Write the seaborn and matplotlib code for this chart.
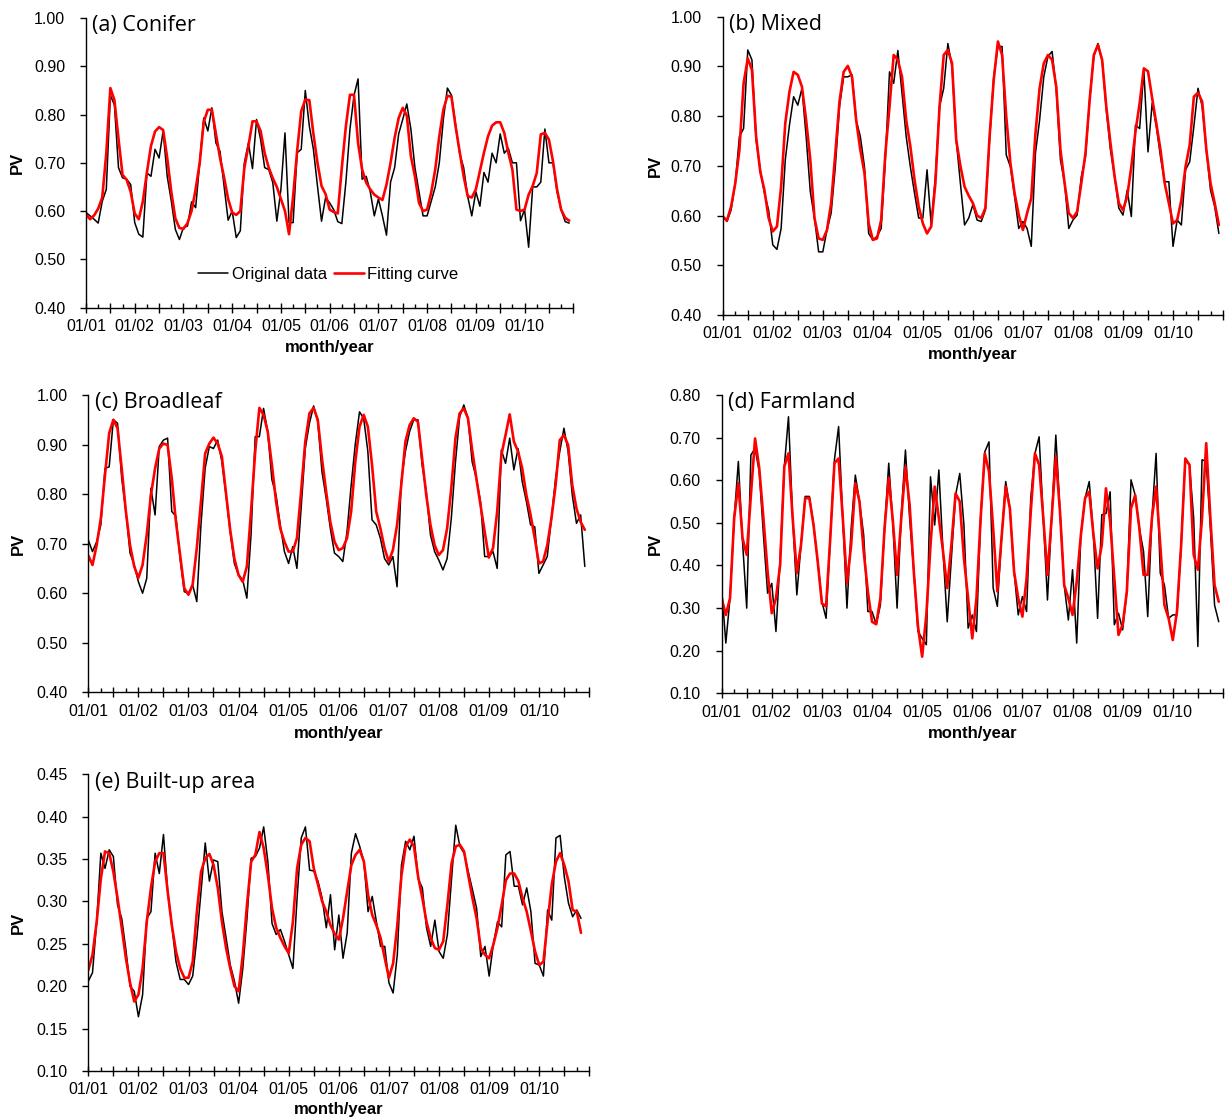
import numpy as np
import pandas as pd
import matplotlib
matplotlib.use("Agg")
import matplotlib.pyplot as plt
import seaborn as sns
from matplotlib.ticker import FixedLocator, FuncFormatter

# ---------------- data (monthly PV, Jan 2001 - Dec 2010) ----------------
year_labels = ["01/01", "01/02", "01/03", "01/04", "01/05",
               "01/06", "01/07", "01/08", "01/09", "01/10"]

conifer_orig = [
    0.597, 0.59, 0.583, 0.575, 0.62, 0.645, 0.84, 0.82, 0.69, 0.669,
    0.666, 0.655, 0.576, 0.552, 0.546, 0.679, 0.672, 0.728, 0.71, 0.766,
    0.672, 0.621, 0.562, 0.541, 0.566, 0.569, 0.619, 0.607, 0.70, 0.793,
    0.766, 0.814, 0.741, 0.724, 0.652, 0.581, 0.60, 0.545, 0.559, 0.70,
    0.741, 0.688, 0.79, 0.748, 0.69, 0.686, 0.659, 0.579, 0.645, 0.762,
    0.576, 0.576, 0.721, 0.728, 0.85, 0.776, 0.728, 0.652, 0.579, 0.628,
    0.617, 0.603, 0.578, 0.574, 0.66, 0.77, 0.84, 0.874, 0.666, 0.672,
    0.64, 0.59, 0.625, 0.59, 0.55, 0.66, 0.69, 0.76, 0.79, 0.822,
    0.77, 0.69, 0.64, 0.59, 0.59, 0.62, 0.65, 0.70, 0.79, 0.855,
    0.84, 0.78, 0.72, 0.69, 0.63, 0.59, 0.64, 0.61, 0.68, 0.66,
    0.72, 0.70, 0.76, 0.72, 0.73, 0.70, 0.70, 0.58, 0.603, 0.525,
    0.65, 0.65, 0.66, 0.77, 0.70, 0.70, 0.64, 0.603, 0.578, 0.575]
conifer_fit = [
    0.593, 0.583, 0.591, 0.605, 0.628, 0.72, 0.855, 0.83, 0.75, 0.675,
    0.665, 0.64, 0.595, 0.583, 0.62, 0.68, 0.735, 0.765, 0.774, 0.768,
    0.71, 0.64, 0.585, 0.565, 0.563, 0.575, 0.60, 0.645, 0.70, 0.785,
    0.81, 0.81, 0.76, 0.71, 0.67, 0.625, 0.597, 0.592, 0.60, 0.69,
    0.735, 0.786, 0.786, 0.766, 0.72, 0.69, 0.668, 0.65, 0.625, 0.60,
    0.552, 0.63, 0.725, 0.807, 0.831, 0.83, 0.76, 0.70, 0.652, 0.635,
    0.603, 0.598, 0.595, 0.69, 0.776, 0.841, 0.841, 0.741, 0.686, 0.659,
    0.645, 0.634, 0.628, 0.623, 0.655, 0.70, 0.752, 0.793, 0.814, 0.798,
    0.714, 0.672, 0.617, 0.60, 0.603, 0.638, 0.686, 0.755, 0.81, 0.839,
    0.837, 0.776, 0.724, 0.672, 0.631, 0.628, 0.645, 0.683, 0.721, 0.755,
    0.777, 0.784, 0.784, 0.762, 0.721, 0.686, 0.603, 0.60, 0.603, 0.634,
    0.652, 0.679, 0.759, 0.762, 0.748, 0.703, 0.645, 0.603, 0.586, 0.58]

mixed_orig = [
    0.599, 0.588, 0.611, 0.665, 0.759, 0.775, 0.933, 0.913, 0.752, 0.692,
    0.645, 0.611, 0.541, 0.532, 0.574, 0.712, 0.782, 0.839, 0.822, 0.856,
    0.759, 0.648, 0.595, 0.527, 0.527, 0.571, 0.605, 0.698, 0.819, 0.879,
    0.879, 0.883, 0.792, 0.759, 0.698, 0.564, 0.551, 0.558, 0.574, 0.712,
    0.889, 0.866, 0.932, 0.846, 0.759, 0.698, 0.645, 0.595, 0.595, 0.692,
    0.581, 0.678, 0.819, 0.856, 0.946, 0.899, 0.752, 0.665, 0.581, 0.595,
    0.622, 0.591, 0.588, 0.611, 0.752, 0.879, 0.94, 0.94, 0.722, 0.698,
    0.638, 0.574, 0.588, 0.574, 0.538, 0.725, 0.792, 0.879, 0.92, 0.93,
    0.853, 0.712, 0.665, 0.574, 0.591, 0.601, 0.678, 0.718, 0.832, 0.92,
    0.946, 0.913, 0.812, 0.732, 0.678, 0.615, 0.601, 0.651, 0.598, 0.782,
    0.775, 0.893, 0.728, 0.826, 0.779, 0.718, 0.668, 0.668, 0.538, 0.591,
    0.581, 0.692, 0.708, 0.779, 0.856, 0.819, 0.732, 0.651, 0.618, 0.564]
mixed_fit = [
    0.598, 0.590, 0.618, 0.665, 0.732, 0.866, 0.916, 0.893, 0.759, 0.688,
    0.651, 0.595, 0.568, 0.578, 0.658, 0.786, 0.849, 0.889, 0.883, 0.859,
    0.792, 0.712, 0.595, 0.554, 0.551, 0.571, 0.625, 0.725, 0.829, 0.889,
    0.901, 0.879, 0.792, 0.732, 0.685, 0.584, 0.551, 0.554, 0.591, 0.725,
    0.819, 0.923, 0.913, 0.879, 0.792, 0.739, 0.672, 0.618, 0.584, 0.564,
    0.578, 0.665, 0.819, 0.923, 0.933, 0.906, 0.752, 0.70, 0.658, 0.64,
    0.625, 0.60, 0.595, 0.615, 0.759, 0.873, 0.95, 0.923, 0.799, 0.705,
    0.645, 0.601, 0.571, 0.605, 0.635, 0.765, 0.856, 0.906, 0.923, 0.913,
    0.859, 0.732, 0.665, 0.605, 0.595, 0.608, 0.665, 0.725, 0.832, 0.923,
    0.943, 0.913, 0.819, 0.745, 0.678, 0.625, 0.611, 0.638, 0.698, 0.769,
    0.826, 0.896, 0.89, 0.836, 0.785, 0.732, 0.665, 0.625, 0.584, 0.591,
    0.631, 0.698, 0.742, 0.839, 0.847, 0.829, 0.732, 0.665, 0.625, 0.581]

broadleaf_orig = [
    0.707, 0.684, 0.704, 0.738, 0.852, 0.855, 0.95, 0.943, 0.832, 0.765,
    0.681, 0.657, 0.623, 0.60, 0.63, 0.812, 0.758, 0.896, 0.909, 0.913,
    0.765, 0.755, 0.67, 0.603, 0.60, 0.617, 0.583, 0.738, 0.852, 0.896,
    0.892, 0.909, 0.866, 0.798, 0.724, 0.66, 0.637, 0.627, 0.59, 0.718,
    0.916, 0.916, 0.973, 0.926, 0.829, 0.798, 0.738, 0.684, 0.66, 0.694,
    0.65, 0.771, 0.892, 0.943, 0.978, 0.946, 0.845, 0.792, 0.731, 0.681,
    0.674, 0.664, 0.724, 0.818, 0.902, 0.966, 0.953, 0.886, 0.748, 0.738,
    0.711, 0.67, 0.657, 0.674, 0.613, 0.825, 0.886, 0.926, 0.95, 0.95,
    0.859, 0.805, 0.718, 0.684, 0.667, 0.647, 0.67, 0.751, 0.865, 0.956,
    0.98, 0.953, 0.865, 0.832, 0.785, 0.674, 0.674, 0.684, 0.65, 0.889,
    0.862, 0.913, 0.849, 0.892, 0.825, 0.785, 0.738, 0.734, 0.64, 0.657,
    0.674, 0.751, 0.832, 0.886, 0.933, 0.886, 0.798, 0.741, 0.758, 0.654]
broadleaf_fit = [
    0.676, 0.657, 0.697, 0.751, 0.839, 0.923, 0.95, 0.933, 0.852, 0.765,
    0.697, 0.654, 0.631, 0.657, 0.718, 0.798, 0.852, 0.892, 0.902, 0.899,
    0.832, 0.744, 0.677, 0.61, 0.597, 0.617, 0.691, 0.785, 0.882, 0.902,
    0.914, 0.902, 0.876, 0.802, 0.728, 0.67, 0.637, 0.623, 0.654, 0.765,
    0.886, 0.974, 0.96, 0.926, 0.859, 0.785, 0.731, 0.704, 0.684, 0.684,
    0.711, 0.805, 0.906, 0.963, 0.974, 0.95, 0.872, 0.805, 0.744, 0.704,
    0.687, 0.691, 0.711, 0.765, 0.866, 0.936, 0.96, 0.936, 0.859, 0.765,
    0.731, 0.691, 0.664, 0.687, 0.738, 0.818, 0.906, 0.939, 0.953, 0.946,
    0.872, 0.798, 0.738, 0.697, 0.677, 0.687, 0.731, 0.812, 0.913, 0.963,
    0.973, 0.953, 0.889, 0.832, 0.778, 0.724, 0.672, 0.691, 0.765, 0.879,
    0.919, 0.961, 0.906, 0.886, 0.852, 0.798, 0.758, 0.711, 0.66, 0.664,
    0.697, 0.751, 0.818, 0.909, 0.919, 0.899, 0.818, 0.771, 0.744, 0.728]

farmland_orig = [
    0.347, 0.218, 0.323, 0.511, 0.644, 0.456, 0.30, 0.659, 0.675, 0.62,
    0.472, 0.335, 0.358, 0.245, 0.417, 0.632, 0.749, 0.511, 0.331, 0.448,
    0.562, 0.562, 0.495, 0.409, 0.315, 0.276, 0.464, 0.648, 0.726, 0.511,
    0.30, 0.487, 0.612, 0.55, 0.472, 0.292, 0.292, 0.262, 0.307, 0.487,
    0.64, 0.495, 0.30, 0.519, 0.671, 0.511, 0.386, 0.245, 0.229, 0.214,
    0.608, 0.495, 0.624, 0.433, 0.268, 0.417, 0.565, 0.616,
    0.495, 0.253, 0.284, 0.245, 0.511, 0.667, 0.69, 0.347, 0.304, 0.464,
    0.597, 0.534, 0.386, 0.284, 0.327, 0.292, 0.558, 0.663, 0.702, 0.511,
    0.319, 0.511, 0.706, 0.526, 0.354, 0.272, 0.39, 0.218, 0.472, 0.558,
    0.597, 0.472, 0.276, 0.519, 0.522, 0.573, 0.261, 0.288, 0.249, 0.339,
    0.601, 0.565, 0.487, 0.433, 0.28, 0.511, 0.663, 0.382, 0.354, 0.276,
    0.284, 0.284, 0.448, 0.648, 0.636, 0.511, 0.21, 0.648, 0.644, 0.487,
    0.307, 0.268]
farmland_fit = [
    0.323, 0.284, 0.323, 0.511, 0.593, 0.464, 0.425, 0.565, 0.698, 0.628,
    0.511, 0.386, 0.288, 0.323, 0.401, 0.632, 0.663, 0.511, 0.382, 0.448,
    0.558, 0.558, 0.495, 0.409, 0.311, 0.304, 0.464, 0.64, 0.651, 0.511,
    0.358, 0.448, 0.593, 0.55, 0.433, 0.339, 0.268, 0.262, 0.323, 0.487,
    0.605, 0.503, 0.378, 0.511, 0.632, 0.542, 0.386, 0.257, 0.186, 0.284,
    0.448, 0.585, 0.511, 0.433, 0.347, 0.448, 0.569, 0.55,
    0.417, 0.323, 0.229, 0.323, 0.511, 0.663, 0.62, 0.487, 0.339, 0.464,
    0.585, 0.534, 0.386, 0.323, 0.28, 0.37, 0.526, 0.663, 0.636, 0.511,
    0.378, 0.511, 0.655, 0.526, 0.354, 0.323, 0.284, 0.362, 0.472, 0.558,
    0.573, 0.472, 0.393, 0.448, 0.581, 0.503, 0.37, 0.237, 0.261, 0.339,
    0.534, 0.565, 0.487, 0.378, 0.378, 0.511, 0.585, 0.448, 0.307, 0.276,
    0.225, 0.292, 0.448, 0.651, 0.636, 0.425, 0.39, 0.511, 0.687, 0.511,
    0.354, 0.315]

builtup_orig = [
    0.206, 0.216, 0.276, 0.357, 0.339, 0.361, 0.353, 0.296, 0.28, 0.243,
    0.20, 0.194, 0.164, 0.19, 0.28, 0.288, 0.357, 0.333, 0.379, 0.312,
    0.272, 0.229, 0.208, 0.208, 0.202, 0.212, 0.257, 0.312, 0.369, 0.324,
    0.349, 0.347, 0.288, 0.257, 0.225, 0.206, 0.18, 0.221, 0.28, 0.351,
    0.353, 0.363, 0.388, 0.347, 0.274, 0.261, 0.267, 0.253, 0.237, 0.221,
    0.304, 0.375, 0.388, 0.337, 0.336, 0.324, 0.304, 0.269, 0.308, 0.243,
    0.284, 0.233, 0.263, 0.357, 0.38, 0.365, 0.347, 0.288, 0.306, 0.276,
    0.247, 0.247, 0.204, 0.192, 0.237, 0.343, 0.371, 0.361, 0.377, 0.327,
    0.316, 0.269, 0.247, 0.278, 0.241, 0.233, 0.261, 0.327, 0.39, 0.365,
    0.357, 0.335, 0.314, 0.292, 0.235, 0.247, 0.212, 0.249, 0.276, 0.27,
    0.355, 0.359, 0.318, 0.318, 0.296, 0.316, 0.288, 0.227, 0.225, 0.212,
    0.29, 0.278, 0.375, 0.378, 0.329, 0.298, 0.282, 0.29, 0.28]
builtup_fit = [
    0.219, 0.237, 0.276, 0.327, 0.359, 0.357, 0.335, 0.304, 0.269, 0.233,
    0.204, 0.182, 0.19, 0.221, 0.276, 0.316, 0.347, 0.357, 0.357, 0.312,
    0.272, 0.241, 0.221, 0.21, 0.21, 0.229, 0.288, 0.335, 0.351, 0.356,
    0.343, 0.316, 0.276, 0.245, 0.221, 0.20, 0.194, 0.237, 0.296, 0.347,
    0.355, 0.382, 0.363, 0.331, 0.292, 0.269, 0.257, 0.247, 0.239, 0.276,
    0.339, 0.367, 0.375, 0.371, 0.339, 0.32, 0.30, 0.288, 0.272, 0.262,
    0.255, 0.28, 0.312, 0.343, 0.355, 0.361, 0.347, 0.308, 0.284, 0.272,
    0.257, 0.233, 0.21, 0.227, 0.272, 0.331, 0.365, 0.373, 0.365, 0.329,
    0.304, 0.276, 0.257, 0.245, 0.243, 0.253, 0.296, 0.345, 0.365, 0.367,
    0.359, 0.331, 0.304, 0.28, 0.245, 0.237, 0.233, 0.249, 0.269, 0.296,
    0.325, 0.333, 0.333, 0.324, 0.304, 0.288, 0.265, 0.241, 0.225, 0.229,
    0.276, 0.32, 0.347, 0.357, 0.343, 0.324, 0.29, 0.288, 0.263]

titles = ["(a) Conifer", "(b) Mixed", "(c) Broadleaf", "(d) Farmland", "(e) Built-up area"]
series_names = ["Original data", "Fitting curve"]

# ---------------- style ----------------
sns.set_style("ticks")
plt.rcParams['font.family'] = ['Liberation Sans', 'DejaVu Sans']
plt.rcParams['axes.linewidth'] = 1.0
plt.rcParams['text.color'] = 'black'
plt.rcParams['axes.labelcolor'] = 'black'
plt.rcParams['xtick.color'] = 'black'
plt.rcParams['ytick.color'] = 'black'
plt.rcParams['axes.edgecolor'] = 'black'

fig = plt.figure(figsize=(12.25, 11.19), dpi=100)

panels = [
    dict(title=titles[0], orig=conifer_orig, fit=conifer_fit, ylim=(0.40, 1.00), step=0.10,
         rect=[0.0702, 0.7252, 0.3978, 0.2586], ylab_x=-0.140, xlab_y=-0.138, legend=True),
    dict(title=titles[1], orig=mixed_orig, fit=mixed_fit, ylim=(0.40, 1.00), step=0.10,
         rect=[0.5900, 0.7185, 0.4084, 0.2666], ylab_x=-0.135, xlab_y=-0.134, legend=False),
    dict(title=titles[2], orig=broadleaf_orig, fit=broadleaf_fit, ylim=(0.40, 1.00), step=0.10,
         rect=[0.0721, 0.3813, 0.4087, 0.2657], ylab_x=-0.140, xlab_y=-0.137, legend=False),
    dict(title=titles[3], orig=farmland_orig, fit=farmland_fit, ylim=(0.10, 0.80), step=0.10,
         rect=[0.5891, 0.3804, 0.4092, 0.2666], ylab_x=-0.133, xlab_y=-0.133, legend=False),
    dict(title=titles[4], orig=builtup_orig, fit=builtup_fit, ylim=(0.10, 0.45), step=0.05,
         rect=[0.0721, 0.0429, 0.4090, 0.2651], ylab_x=-0.140, xlab_y=-0.131, legend=False),
]

def xfmt(v, pos):
    k = int(round(v))
    if k % 12 == 0 and 0 <= k // 12 < len(year_labels):
        return year_labels[k // 12]
    return ""

for p in panels:
    ax = fig.add_axes(p["rect"])
    n = len(p["orig"])
    df = pd.DataFrame({"month": np.arange(n),
                       series_names[0]: p["orig"],
                       series_names[1]: p["fit"]})
    sns.lineplot(data=df, x="month", y=series_names[0], ax=ax, color="black",
                 linewidth=1.1, label=series_names[0], legend=False)
    sns.lineplot(data=df, x="month", y=series_names[1], ax=ax, color="#FF0000",
                 linewidth=1.9, label=series_names[1], legend=False)
    if ax.get_legend() is not None:
        ax.get_legend().remove()

    ax.set_xlim(0, 120)
    ax.set_ylim(*p["ylim"])
    yt = np.round(np.arange(p["ylim"][0], p["ylim"][1] + 1e-9, p["step"]), 2)
    ax.yaxis.set_major_locator(FixedLocator(yt))
    ax.yaxis.set_major_formatter(FuncFormatter(lambda v, pos: f"{v:.2f}"))
    ax.xaxis.set_major_locator(FixedLocator(np.arange(0, 121, 6)))
    ax.xaxis.set_minor_locator(FixedLocator(np.arange(3, 121, 6)))
    ax.xaxis.set_major_formatter(FuncFormatter(xfmt))

    ax.tick_params(axis="x", which="major", direction="inout", length=6.5, width=1.0,
                   pad=5, labelsize=11.5, colors="black")
    ax.tick_params(axis="x", which="minor", direction="in", length=3.2, width=1.0,
                   colors="black")
    ax.tick_params(axis="y", which="major", direction="out", length=4.5, width=1.0,
                   pad=10.5, labelsize=11.5, colors="black")
    sns.despine(ax=ax)
    for s in ("left", "bottom"):
        ax.spines[s].set_color("black")

    ax.set_ylabel("PV", fontsize=12, fontweight="bold", va="center", color="black")
    ax.yaxis.set_label_coords(p["ylab_x"], 0.5)
    ax.set_xlabel("month/year", fontsize=12, fontweight="bold", va="center", color="black")
    ax.xaxis.set_label_coords(0.5, p["xlab_y"])

    ax.text(0.013, 0.955, p["title"], transform=ax.transAxes, fontsize=15.5,
            family=["Open Sans", "DejaVu Sans"], va="baseline", ha="left", color="black")

    if p["legend"]:
        handles = ax.get_lines()[:2]
        leg = ax.legend(handles, series_names, loc="center", bbox_to_anchor=(0.497, 0.115),
                        ncol=2, frameon=False, fontsize=12, handlelength=1.8,
                        handletextpad=0.2, columnspacing=0.4, borderpad=0)
        for t in leg.get_texts():
            t.set_color("black")

fig.savefig("out.png", dpi=100)
